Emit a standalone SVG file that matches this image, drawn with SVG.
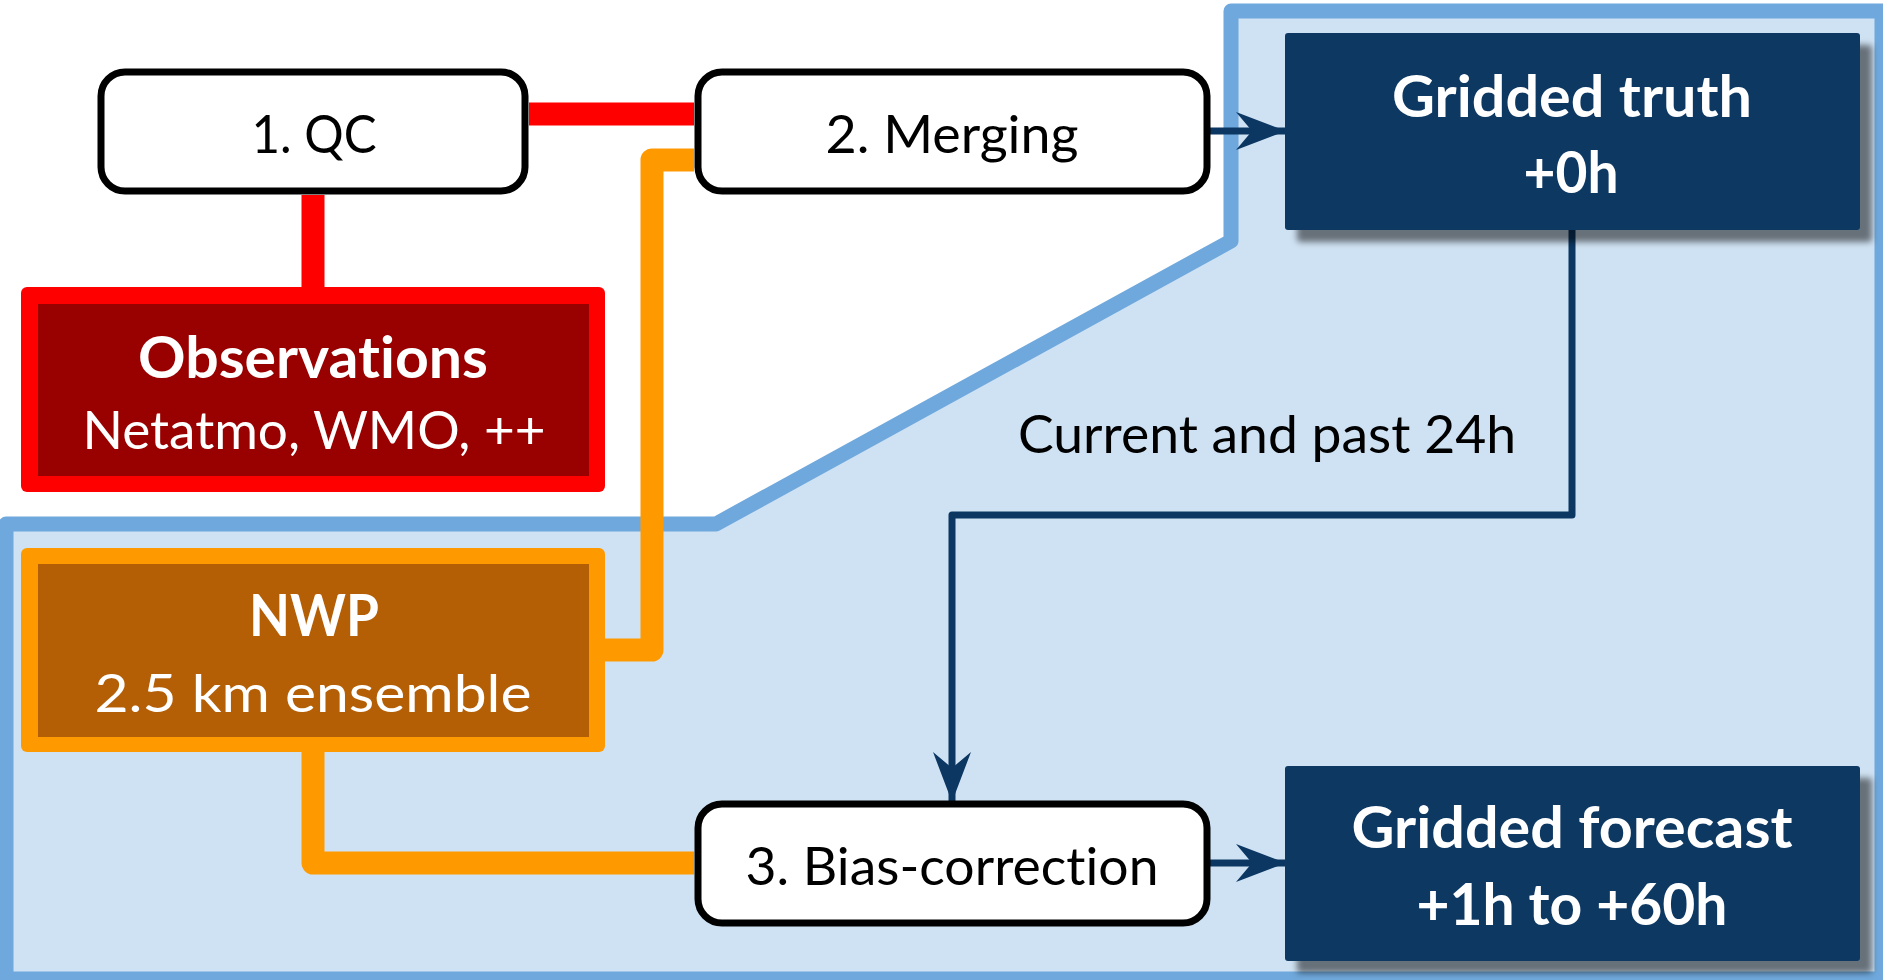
<svg xmlns="http://www.w3.org/2000/svg" width="1883" height="980" viewBox="0 0 1883 980">
<defs>
<style>
.step{fill:#FFFFFF;stroke:#000000;stroke-width:7}
.t{font-family:Lato,"Liberation Sans",sans-serif;text-anchor:middle;font-variant-ligatures:none;font-feature-settings:"liga" 0,"dlig" 0}
.reg{font-size:53px}
.bold{font-size:58px;font-weight:bold}
.dark{fill:#000000}
.white{fill:#FFFFFF}
.red{fill:none;stroke:#FF0000;stroke-width:23}
.orange{fill:none;stroke:#FF9900;stroke-width:23;stroke-linejoin:round}
.navy{fill:none;stroke:#0B3762;stroke-width:7;stroke-linejoin:round}
.navybox{fill:#0B3762}
</style>
<marker id="arr" markerUnits="userSpaceOnUse" markerWidth="50" markerHeight="40" viewBox="0 0 50 40" refX="50" refY="20" orient="auto">
<path d="M0,1 L50,20 L0,39 L16,20 Z" fill="#0B3762"/>
</marker>
<filter id="shadow" x="-10%" y="-10%" width="130%" height="140%">
<feDropShadow dx="12" dy="12" stdDeviation="3" flood-color="#000000" flood-opacity="0.5"/>
</filter>
</defs>
<rect x="0" y="0" width="1883" height="980" fill="#FFFFFF"/>
<g id="region">
<polygon points="1231,11 1882,11 1882,979 6,979 6,524 716,524 1231,241" fill="#CFE2F3" stroke="#6FA8DC" stroke-width="15" stroke-linejoin="round"/>
</g>
<g id="connectors">
<path class="red" d="M313,195 V287"/>
<path class="red" d="M529,114 H694"/>
<path class="orange" d="M605,650 H652 V160 H694"/>
<path class="orange" d="M313,752 V863 H694"/>
<path class="navy" d="M1210,131 H1286" marker-end="url(#arr)"/>
<path class="navy" d="M1210,863 H1286" marker-end="url(#arr)"/>
<path class="navy" d="M1572,230 V515 H952 V802" marker-end="url(#arr)"/>
</g>
<g id="qc">
<rect class="step" x="101" y="72" width="424" height="119" rx="24"/>
<text class="t reg dark" x="314" y="153" textLength="125" lengthAdjust="spacingAndGlyphs">1. QC</text>
</g>
<g id="merging">
<rect class="step" x="698" y="72" width="509" height="119" rx="24"/>
<text class="t reg dark" x="952" y="153" textLength="253" lengthAdjust="spacingAndGlyphs">2. Merging</text>
</g>
<g id="bias">
<rect class="step" x="698" y="804" width="509" height="119" rx="24"/>
<text class="t reg dark" x="952" y="885" textLength="413" lengthAdjust="spacingAndGlyphs">3. Bias-correction</text>
</g>
<g id="observations">
<rect x="21" y="287" width="584" height="205" rx="6" fill="#FF0000"/>
<rect x="38" y="304" width="551" height="172" fill="#990000"/>
<text class="t bold white" x="313" y="378" textLength="350" lengthAdjust="spacingAndGlyphs">Observations</text>
<text class="t reg white" x="314" y="449" textLength="463" lengthAdjust="spacingAndGlyphs">Netatmo, WMO, ++</text>
</g>
<g id="nwp">
<rect x="21" y="548" width="584" height="204" rx="6" fill="#FF9900"/>
<rect x="38" y="564" width="551" height="173" fill="#B45F06"/>
<text class="t bold white" x="314" y="636" textLength="130" lengthAdjust="spacingAndGlyphs">NWP</text>
<text class="t reg white" x="313" y="712" textLength="437" lengthAdjust="spacingAndGlyphs">2.5 km ensemble</text>
</g>
<g id="truth">
<rect class="navybox" x="1285" y="33" width="575" height="197" rx="3" filter="url(#shadow)"/>
<text class="t bold white" x="1572" y="117" textLength="360" lengthAdjust="spacingAndGlyphs">Gridded truth</text>
<text class="t bold white" x="1571" y="193" textLength="95" lengthAdjust="spacingAndGlyphs">+0h</text>
</g>
<g id="forecast">
<rect class="navybox" x="1285" y="766" width="575" height="195" rx="3" filter="url(#shadow)"/>
<text class="t bold white" x="1572" y="848" textLength="441" lengthAdjust="spacingAndGlyphs">Gridded forecast</text>
<text class="t bold white" x="1572" y="925" textLength="311" lengthAdjust="spacingAndGlyphs">+1h to +60h</text>
</g>
<g id="label">
<text class="t reg dark" x="1018" y="453" style="text-anchor:start" textLength="498" lengthAdjust="spacingAndGlyphs">Current and past 24h</text>
</g>
</svg>
